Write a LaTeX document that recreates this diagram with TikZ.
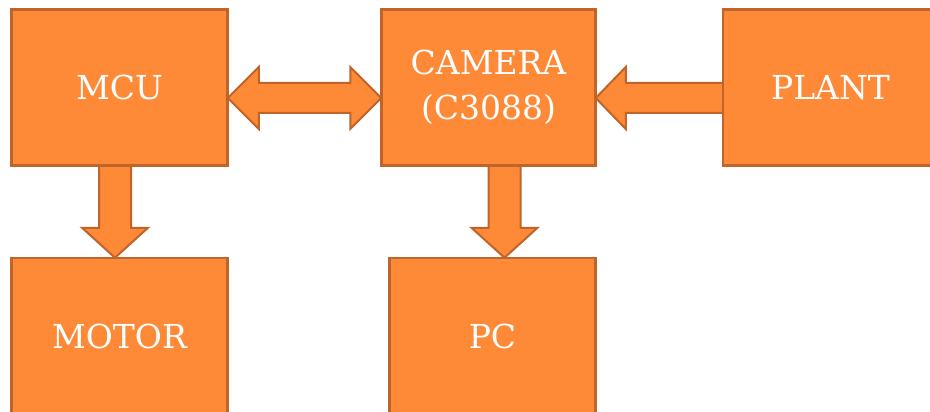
\documentclass[tikz,border=0pt]{standalone}
\usepackage{fontspec}
\setmainfont{DejaVu Serif}
\usetikzlibrary{calc}
\pgfdeclarelayer{bg}
\pgfsetlayers{bg,main}
\definecolor{boxfill}{RGB}{254,137,54}
\definecolor{boxline}{RGB}{192,100,42}
\tikzset{
  lbl/.style={text=white, font=\fontsize{33}{45}\selectfont, align=center, inner sep=0pt},
  blk/.style={draw=boxline, fill=boxfill, line width=2.5pt, lbl},
  barrow/.style={draw=boxline, fill=boxfill, line width=2pt, line join=miter}
}
\begin{document}
\begin{tikzpicture}[x=1pt,y=-1pt]
\useasboundingbox (0,0) rectangle (930,412);
\node[blk, minimum width=216, minimum height=156] (mcu) at (119.5,87.5) {MCU};
\node[blk, minimum width=214, minimum height=156] (cam) at (488.5,87.5) {CAMERA\\(C3088)};
\node[blk, minimum width=212, minimum height=156] (plant) at (829,87.5) {};
\node[lbl] (plantlbl) at (830.5,88) {PLANT};
\node[blk, minimum width=216, minimum height=156] (motor) at (119.5,336) {MOTOR};
\node[blk, minimum width=206, minimum height=156] (pc) at (492.5,336) {PC};
\begin{pgfonlayer}{bg}
  % double arrow MCU <-> CAMERA
  \coordinate (L) at ($(mcu.east)+(-1,10.5)$);
  \coordinate (R) at ($(cam.west)+(1,10.5)$);
  \draw[barrow] (L) -- ($(L)+(31,-31)$) -- ($(L)+(31,-15)$) -- ($(R)+(-31,-15)$)
    -- ($(R)+(-31,-31)$) -- (R) -- ($(R)+(-31,31)$) -- ($(R)+(-31,15)$)
    -- ($(L)+(31,15)$) -- ($(L)+(31,31)$) -- cycle;
  % PLANT -> CAMERA
  \coordinate (T) at ($(cam.east)+(-1,10.5)$);
  \coordinate (P) at ($(plant.west)+(2,10.5)$);
  \draw[barrow] (T) -- ($(T)+(30,-31)$) -- ($(T)+(30,-15)$) -- ($(P)+(0,-15)$)
    -- ($(P)+(0,15)$) -- ($(T)+(30,15)$) -- ($(T)+(30,31)$) -- cycle;
  % MCU -> MOTOR
  \coordinate (S1) at ($(mcu.south)+(-4.5,-2)$);
  \coordinate (T1) at ($(S1 |- motor.north)+(0,1)$);
  \draw[barrow] (S1) -- ($(S1)+(16,0)$) -- ($(T1)+(16,-30)$) -- ($(T1)+(33,-30)$)
    -- (T1) -- ($(T1)+(-33,-30)$) -- ($(T1)+(-16,-30)$) -- ($(S1)+(-16,0)$) -- cycle;
  % CAMERA -> PC
  \coordinate (S2) at ($(cam.south)+(16,-2)$);
  \coordinate (T2) at ($(S2 |- pc.north)+(0,1)$);
  \draw[barrow] (S2) -- ($(S2)+(16,0)$) -- ($(T2)+(16,-30)$) -- ($(T2)+(33,-30)$)
    -- (T2) -- ($(T2)+(-33,-30)$) -- ($(T2)+(-16,-30)$) -- ($(S2)+(-16,0)$) -- cycle;
\end{pgfonlayer}
\end{tikzpicture}
\end{document}
